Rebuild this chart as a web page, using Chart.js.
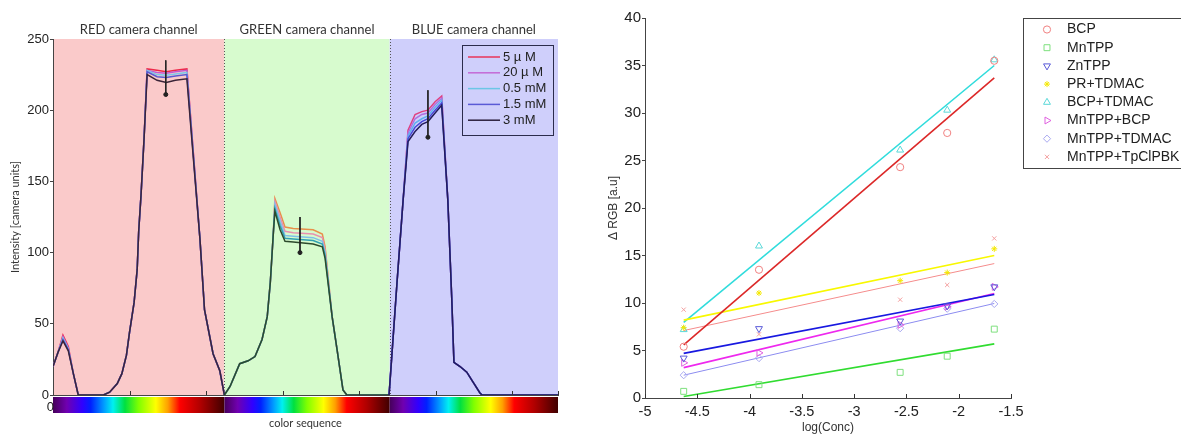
<!DOCTYPE html>
<html>
<head>
<meta charset="utf-8">
<script src="https://cdn.jsdelivr.net/npm/chart.js@4.4.1/dist/chart.umd.min.js"></script>
<style>
  html, body { margin: 0; padding: 0; background: #fff; }
  #left { position: absolute; left: 0; top: 0; width: 580px; height: 435px; }
  #right { position: absolute; left: 580px; top: 0; width: 601px; height: 435px; }
</style>
</head>
<body>
<div id="left"><canvas id="spectrum"></canvas></div>
<div id="right"><canvas id="calib"></canvas></div>
<script>
// ---------- left panel : intensity along the colour sequence ----------
const sampleX = [
  0, 3.3, 6.5, 10, 13.3, 16.5, 33, 37, 42, 45, 48, 50, 53, 55, 56, 57.5, 59.5, 61.5, 68, 74, 80, 87.5, 96, 99, 104.6, 109, 112,
  115.7, 122, 127.5, 132, 136.6, 140, 142, 144, 145, 148.4, 151.6, 157, 170, 176, 177.8, 182.4, 185.6, 189.5, 192, 219.6,
  224.8, 228.8, 232, 236.6, 241, 245, 249.7, 254, 258, 260.6, 262, 266, 270.4, 274.5, 279, 280.4, 330
]
const i5uM = [
  20, 30, 42, 34, 15, 0, 0, 2, 8, 15, 28, 44, 65, 88, 115, 140, 180, 229, 228, 227, 228, 229, 110, 60, 29, 17, 0,
  6, 22, 24, 27, 39, 55, 79, 114, 138, 128, 118, 117, 116, 113, 104, 55, 32, 3.5, 0, 0,
  79, 137, 186, 197, 199, 200, 206, 210, 137, 67, 23, 20, 16, 9, 1.4, 0, 0
]
const i20uM = [
  20, 30, 41, 33, 15, 0, 0, 2, 8, 15, 28, 44, 65, 88, 115, 140, 180, 228, 226.5, 226, 227, 228, 110, 60, 29, 17, 0,
  6, 22, 24, 27, 39, 55, 79, 114, 136, 125, 115, 114, 113, 110.5, 102, 55, 32, 3.5, 0, 0,
  79, 137, 184, 194, 197, 198, 204, 208.5, 137, 67, 23, 20, 16, 9, 1.4, 0, 0
]
const i05mM = [
  20, 30, 40, 32.5, 15, 0, 0, 2, 8, 15, 28, 44, 65, 88, 115, 140, 180, 228, 225, 224.5, 225.5, 226.5, 110, 60, 29, 17, 0,
  6, 22, 24, 27, 39, 55, 79, 114, 134, 122, 112, 111.5, 110.5, 108, 100, 55, 32, 3.5, 0, 0,
  79, 137, 182, 191, 194, 196, 202, 207, 137, 67, 23, 20, 16, 9, 1.4, 0, 0
]
const i15mM = [
  20, 30, 39, 32, 15, 0, 0, 2, 8, 15, 28, 44, 65, 88, 115, 140, 180, 227, 223.5, 223, 224, 225, 110, 60, 29, 17, 0,
  6, 22, 24, 27, 39, 55, 79, 114, 131, 119, 110, 109.5, 108.5, 106, 98, 55, 32, 3.5, 0, 0,
  79, 137, 180, 188, 192, 194, 200, 205, 137, 67, 23, 20, 16, 9, 1.4, 0, 0
]
const i3mM = [
  20, 30, 38, 31, 15, 0, 0, 2, 8, 15, 28, 44, 65, 88, 115, 140, 180, 225, 221, 219.5, 221, 222, 110, 60, 29, 17, 0,
  6, 22, 24, 27, 39, 55, 79, 114, 129, 116, 108, 107.5, 106, 104, 96, 55, 32, 3.5, 0, 0,
  79, 137, 178, 185, 190, 192, 198, 203.5, 137, 67, 23, 20, 16, 9, 1.4, 0, 0
]
const concLabels = ["5 \u00b5 M", "20 \u00b5 M", "0.5 mM", "1.5 mM", "3 mM"]
const channelNames = ["RED camera channel", "GREEN camera channel", "BLUE camera channel"]
const channelEdges = [0, 112, 220, 330]
// little arrows showing the trend with concentration
const arrowX = [73.7, 161.4, 245]
const arrowTop = [235, 125, 214]
const arrowBottom = [211, 100, 181]

// ---------- right panel : calibration ----------
const logConc = [-4.63, -3.91, -2.56, -2.11, -1.66]
const sensorNames = ["BCP", "MnTPP", "ZnTPP", "PR+TDMAC", "BCP+TDMAC", "MnTPP+BCP", "MnTPP+TDMAC", "MnTPP+TpClPBK"]
const bcp = [5.4, 13.5, 24.3, 27.9, 35.5]
const mntpp = [0.7, 1.4, 2.7, 4.4, 7.25]
const zntpp = [4.2, 7.3, 8.1, 9.7, 11.7]
const prTdmac = [7.4, 11.05, 12.35, 13.2, 15.7]
const bcpTdmac = [7.2, 16.0, 26.1, 30.3, 35.6]
const mntppBcp = [3.7, 4.75, 7.7, 9.6, 11.7]
const mntppTdmac = [2.4, 4.2, 7.35, 9.4, 9.9]
const mntppTpclpbk = [9.3, 6.7, 10.35, 11.9, 16.8]
// fitted line ends, read at the first and last concentration
const fitStart = [5.6, 0.15, 4.7, 8.2, 7.95, 3.2, 2.4, 7.1]
const fitEnd = [33.7, 5.7, 10.9, 15.0, 35.0, 11.0, 9.95, 14.15]

// ---------- styles ----------
const channelFill = ['rgb(250,202,202)', 'rgb(215,251,206)', 'rgb(207,207,251)']
const legendColors = ['#e8365a', '#c46ad6', '#6cc6e6', '#5a5ad6', '#2a1e3c']
const channelPalettes = [
  ['#ee2a4a', '#c05ad0', '#7cc8e8', '#5858d0', '#3a2438'],
  ['#e8904a', '#e890b0', '#80c0e8', '#30a0b0', '#2c4a2c'],
  ['#e04080', '#b070e0', '#60b0f0', '#4848d8', '#241c5c']
]
const spectrumStops = [[0, '#46005a'], [0.08, '#7000b0'], [0.17, '#3000ff'], [0.22, '#0020ff'], [0.3, '#00a0ff'],
  [0.35, '#00f0f0'], [0.42, '#00e040'], [0.5, '#80ff00'], [0.6, '#ffff00'], [0.67, '#ffa000'], [0.74, '#ff0000'],
  [0.86, '#b00000'], [1, '#400000']]
const markerColors = ['#f08080', '#7ee07e', '#5a5ad8', '#f4e800', '#5ad8d8', '#e060e0', '#a8a8f0', '#f4a0a0']
const lineColors = ['#dc2828', '#30dc30', '#1818e0', '#f8f800', '#30dcdc', '#ee28ee', '#8c8cf0', '#f58c8c']
const lineWidths = [1.6, 1.6, 1.6, 1.6, 1.6, 1.6, 1, 1]
const markerStyles = ['circle', 'rect', 'triangle', 'star', 'triangle', 'triangle', 'rectRot', 'crossRot']
const markerRotation = [0, 0, 180, 0, 0, 90, 0, 0]
const markerRadius = [3.6, 4.2, 4, 3, 4, 4, 3.6, 3]

Chart.defaults.font.family = "'Liberation Sans', Arial, sans-serif"
Chart.defaults.color = '#222'

function channelOf(v) {
  if (v < channelEdges[1]) return 0
  if (v < channelEdges[2]) return 1
  return 2
}

const intensities = [i5uM, i20uM, i05mM, i15mM, i3mM]
const spectrumSets = intensities.map((arr, i) => ({
  label: concLabels[i],
  data: sampleX.map((x, j) => ({ x: x, y: arr[j] })),
  borderColor: legendColors[i],
  borderWidth: 1.5,
  pointRadius: 0,
  showLine: true,
  order: 10 - i,
  segment: {
    borderColor: ctx => channelPalettes[channelOf((ctx.p0.parsed.x + ctx.p1.parsed.x) / 2)][i]
  }
}))
arrowX.forEach((x, k) => {
  spectrumSets.push({
    label: 'arrow' + k,
    data: [{ x: x, y: arrowTop[k] }, { x: x, y: arrowBottom[k] }],
    borderColor: '#222',
    backgroundColor: '#222',
    borderWidth: 1,
    pointRadius: [0, 2],
    showLine: true,
    order: 0
  })
})

const leftDecor = {
  id: 'leftDecor',
  beforeDraw(chart) {
    const { ctx, chartArea: { top, bottom }, scales: { x } } = chart
    ctx.save()
    for (let c = 0; c < 3; c++) {
      const x0 = x.getPixelForValue(channelEdges[c])
      const x1 = x.getPixelForValue(channelEdges[c + 1])
      ctx.fillStyle = channelFill[c]
      ctx.fillRect(x0, top, x1 - x0, bottom - top)
    }
    ctx.strokeStyle = '#555'
    ctx.lineWidth = 1
    ctx.setLineDash([1, 2])
    for (let c = 1; c < 3; c++) {
      const px = Math.round(x.getPixelForValue(channelEdges[c])) + 0.5
      ctx.beginPath()
      ctx.moveTo(px, top)
      ctx.lineTo(px, bottom)
      ctx.stroke()
    }
    ctx.restore()
  },
  afterDraw(chart) {
    const { ctx, chartArea: { top, bottom, right }, scales: { x } } = chart
    ctx.save()
    // channel titles
    ctx.font = "13px Lato, 'Open Sans', sans-serif"
    ctx.fillStyle = '#333'
    ctx.textAlign = 'center'
    ctx.textBaseline = 'middle'
    for (let c = 0; c < 3; c++) {
      const mid = (x.getPixelForValue(channelEdges[c]) + x.getPixelForValue(channelEdges[c + 1])) / 2
      ctx.fillText(channelNames[c], mid, top - 9)
    }
    // colour sequence bar
    for (let c = 0; c < 3; c++) {
      const x0 = x.getPixelForValue(channelEdges[c])
      const x1 = x.getPixelForValue(channelEdges[c + 1])
      const g = ctx.createLinearGradient(x0, 0, x1, 0)
      spectrumStops.forEach(s => g.addColorStop(s[0], s[1]))
      ctx.fillStyle = g
      ctx.fillRect(x0, bottom + 2, x1 - x0, 16)
    }
    // the "0" tick label peeking out left of the bar
    ctx.font = "13px 'Liberation Sans', Arial, sans-serif"
    ctx.fillStyle = '#222'
    ctx.textAlign = 'right'
    ctx.fillText('0', x.getPixelForValue(0) + 1, bottom + 12)
    // inward x ticks
    ctx.strokeStyle = '#333'
    ctx.lineWidth = 1
    x.ticks.forEach(t => {
      if (t.value <= 0) return
      const px = Math.round(x.getPixelForValue(t.value)) + 0.5
      ctx.beginPath()
      ctx.moveTo(px, bottom)
      ctx.lineTo(px, bottom - 4)
      ctx.stroke()
    })
    // legend
    const lx = right - 96, ly = top + 6
    ctx.strokeStyle = '#2c2c4c'
    ctx.strokeRect(lx + 0.5, ly + 0.5, 91, 90)
    ctx.font = "13px 'Liberation Sans', Arial, sans-serif"
    ctx.textAlign = 'left'
    ctx.fillStyle = '#222'
    concLabels.forEach((lab, i) => {
      const yy = ly + 12 + i * 15.8
      ctx.strokeStyle = legendColors[i]
      ctx.lineWidth = 1.5
      ctx.beginPath()
      ctx.moveTo(lx + 6, yy)
      ctx.lineTo(lx + 38, yy)
      ctx.stroke()
      ctx.fillText(lab, lx + 41, yy)
    })
    ctx.restore()
  }
}

new Chart(document.getElementById('spectrum'), {
  type: 'scatter',
  data: { datasets: spectrumSets },
  options: {
    responsive: true,
    maintainAspectRatio: false,
    animation: false,
    layout: { padding: { left: 0, right: 22, top: 39, bottom: 0 } },
    plugins: { legend: { display: false }, tooltip: { enabled: false } },
    scales: {
      x: {
        type: 'linear', min: 0, max: 330,
        afterFit: s => { s.height = 40 },
        ticks: { display: false, stepSize: 50 },
        grid: { display: false },
        border: { display: true, color: '#444', width: 1 },
        title: { display: true, text: 'color sequence', color: '#333',
          font: { family: "Lato, 'Open Sans', sans-serif", size: 11 }, padding: { top: 0, bottom: 5 } }
      },
      y: {
        min: 0, max: 250,
        afterFit: s => { s.width = 53 },
        ticks: { stepSize: 50, padding: 1, font: { size: 13 }, color: '#222' },
        grid: { drawOnChartArea: false, drawTicks: true, tickLength: 3, color: '#444' },
        border: { display: true, color: '#444', width: 1 },
        title: { display: true, text: 'Intensity [camera units]', color: '#333',
          font: { family: "Lato, 'Open Sans', sans-serif", size: 11 }, padding: { top: 9, bottom: 0 } }
      }
    }
  },
  plugins: [leftDecor]
})

// ---------- right chart ----------
const sensorValues = [bcp, mntpp, zntpp, prTdmac, bcpTdmac, mntppBcp, mntppTdmac, mntppTpclpbk]
const calibSets = []
sensorValues.forEach((vals, i) => {
  calibSets.push({
    label: sensorNames[i],
    data: logConc.map((x, j) => ({ x: x, y: vals[j] })),
    pointStyle: markerStyles[i],
    rotation: markerRotation[i],
    pointRadius: markerRadius[i],
    borderColor: markerColors[i],
    backgroundColor: 'rgba(0,0,0,0)',
    pointBorderWidth: 1,
    showLine: false
  })
  calibSets.push({
    label: sensorNames[i] + ' fit',
    data: [{ x: logConc[0], y: fitStart[i] }, { x: logConc[logConc.length - 1], y: fitEnd[i] }],
    borderColor: lineColors[i],
    borderWidth: lineWidths[i],
    pointRadius: 0,
    showLine: true
  })
})

function drawMarker(ctx, i, x, y) {
  if (Chart.helpers && Chart.helpers.drawPoint) {
    ctx.strokeStyle = markerColors[i]
    ctx.fillStyle = 'rgba(0,0,0,0)'
    ctx.lineWidth = 1
    Chart.helpers.drawPoint(ctx, { pointStyle: markerStyles[i], rotation: markerRotation[i],
      radius: markerRadius[i], borderWidth: 1 }, x, y)
  }
}

const rightDecor = {
  id: 'rightDecor',
  afterDraw(chart) {
    const { ctx, chartArea: { top, bottom, right }, scales: { x } } = chart
    ctx.save()
    ctx.strokeStyle = '#333'
    ctx.lineWidth = 1
    x.ticks.forEach(t => {
      const px = Math.round(x.getPixelForValue(t.value)) + 0.5
      ctx.beginPath()
      ctx.moveTo(px, bottom)
      ctx.lineTo(px, bottom - 4)
      ctx.stroke()
    })
    // legend box, running off the right edge as in the original
    const lx = right + 12, ly = top
    ctx.strokeStyle = '#444'
    ctx.strokeRect(lx + 0.5, ly + 0.5, 170, 150)
    ctx.font = "14px 'Liberation Sans', Arial, sans-serif"
    ctx.textBaseline = 'middle'
    ctx.textAlign = 'left'
    sensorNames.forEach((name, i) => {
      const yy = ly + 11.5 + i * 18.2
      drawMarker(ctx, i, lx + 24, yy)
      ctx.fillStyle = '#222'
      ctx.fillText(name, lx + 44, yy)
    })
    ctx.restore()
  }
}

new Chart(document.getElementById('calib'), {
  type: 'scatter',
  data: { datasets: calibSets },
  options: {
    responsive: true,
    maintainAspectRatio: false,
    animation: false,
    layout: { padding: { left: 0, right: 170, top: 18, bottom: 0 } },
    plugins: { legend: { display: false }, tooltip: { enabled: false } },
    scales: {
      x: {
        type: 'linear', min: -5, max: -1.5,
        afterFit: s => { s.height = 37 },
        ticks: { stepSize: 0.5, autoSkip: false, maxRotation: 0, padding: 5, font: { size: 14.5 },
          callback: v => String(v) },
        grid: { display: false, drawTicks: false },
        border: { display: true, color: '#444', width: 1 },
        title: { display: true, text: 'log(Conc)', color: '#333', font: { size: 12 }, padding: { top: 0, bottom: 0 } }
      },
      y: {
        min: 0, max: 40,
        afterFit: s => { s.width = 65 },
        ticks: { stepSize: 5, padding: 1, font: { size: 15 } },
        grid: { drawOnChartArea: false, drawTicks: true, tickLength: 3, color: '#444' },
        border: { display: true, color: '#444', width: 1 },
        title: { display: true, text: '\u0394 RGB [a.u]', color: '#333', font: { size: 12 }, padding: { top: 26, bottom: 0 } }
      }
    }
  },
  plugins: [rightDecor]
})
</script>
</body>
</html>
